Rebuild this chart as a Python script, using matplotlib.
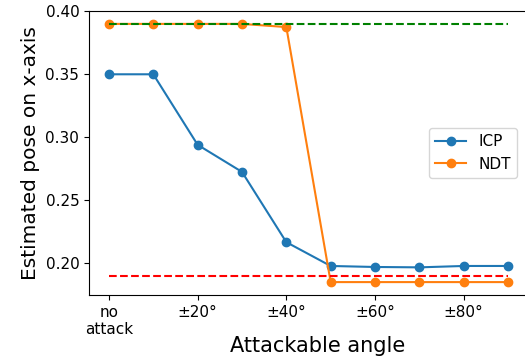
import matplotlib
matplotlib.use("Agg")
import matplotlib.pyplot as plt

x = list(range(10))
icp = [0.350, 0.350, 0.294, 0.2725, 0.2167, 0.1978, 0.197, 0.1967, 0.1978, 0.1978]
ndt = [0.390, 0.390, 0.390, 0.390, 0.3875, 0.185, 0.185, 0.185, 0.185, 0.185]
upper_ref = 0.39
lower_ref = 0.19
tick_pos = [0, 2, 4, 6, 8]
tick_labels = ["no\nattack", "±20°", "±40°", "±60°", "±80°"]

fig = plt.figure(figsize=(5.25, 3.58), dpi=100)
left, right, top, bottom = 89, 528, 11, 295
ax = fig.add_axes([left/525, 1 - bottom/358, (right-left)/525, (bottom-top)/358])
ax.plot(x, icp, marker="o", label="ICP")
ax.plot(x, ndt, marker="o", label="NDT")
ax.plot([x[0], x[-1]], [upper_ref, upper_ref], "g--")
ax.plot([x[0], x[-1]], [lower_ref, lower_ref], "r--")
ax.set_xticks(tick_pos)
ax.set_xticklabels(tick_labels)
ax.set_yticks([0.20, 0.25, 0.30, 0.35, 0.40])
ax.tick_params(labelsize=11)
ax.set_xlabel("Attackable angle", fontsize=15)
ax.xaxis.set_label_coords((318 - left) / (right - left), -0.145)
ax.set_ylabel("Estimated pose on x-axis", fontsize=14.5)
ax.legend(loc="center right", fontsize=11, bbox_to_anchor=(0.992, 0.5))
fig.savefig("out.png", dpi=100)
